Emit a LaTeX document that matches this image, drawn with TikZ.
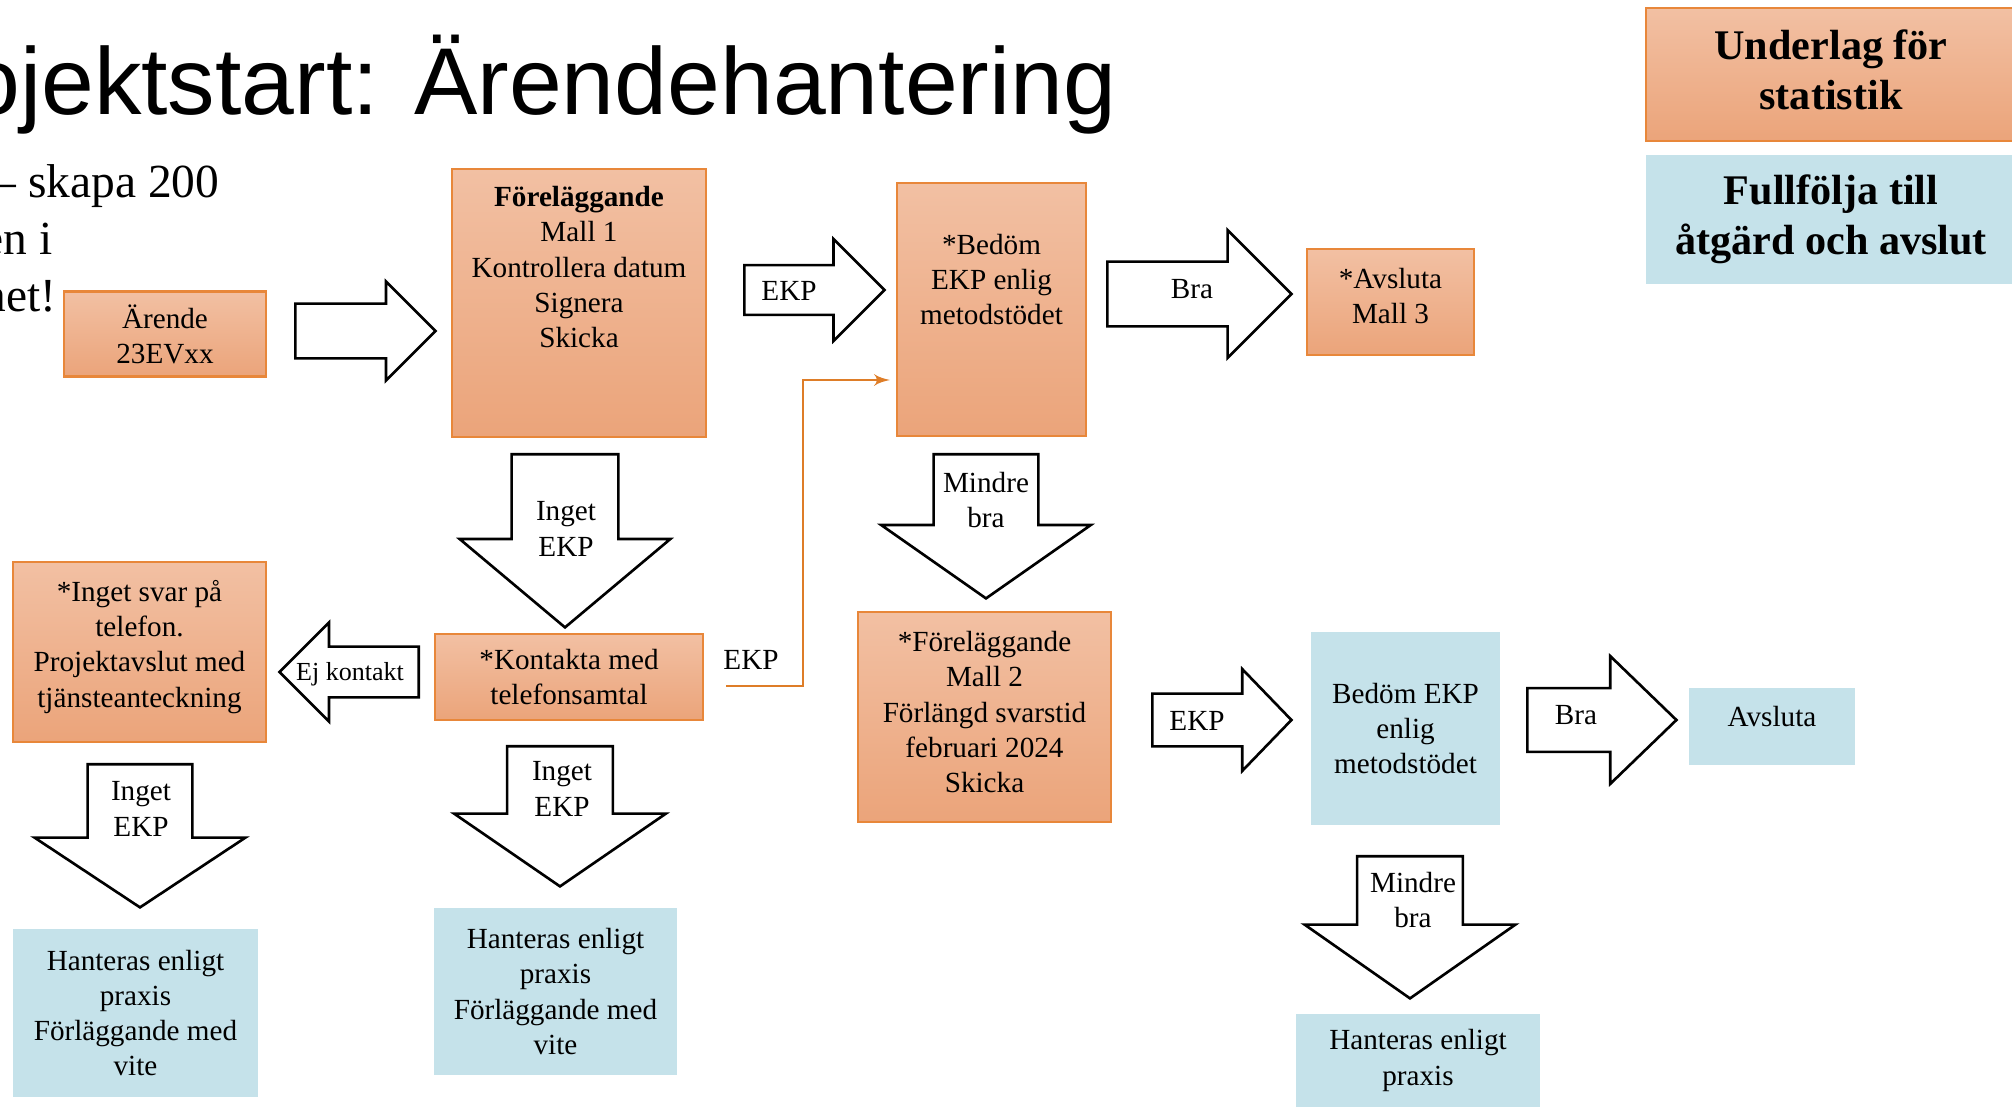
\documentclass[tikz,border=0pt]{standalone}
\usepackage{fontspec}
\setmainfont{Liberation Serif}
\newfontfamily\titlefont{Liberation Sans}
\usetikzlibrary{arrows,shapes.arrows}
\definecolor{otop}{RGB}{242,192,163}
\definecolor{obot}{RGB}{235,164,122}
\definecolor{oline}{RGB}{232,135,58}
\definecolor{lblue}{RGB}{197,226,234}
\definecolor{ekporange}{RGB}{222,125,40}

\begin{document}
\begin{tikzpicture}[x=0.01cm,y=-0.01cm]

\tikzset{obox/.style = {draw=oline, line width=0.6pt, top color=otop, bottom color=obot, align=center, inner sep=0pt, font=\fontsize{8.3}{10}\selectfont}}
\tikzset{bbox/.style = {fill=lblue, align=center, inner sep=0pt, font=\fontsize{8.3}{10}\selectfont}}
\tikzset{bigtext/.style = {font=\bfseries\fontsize{12}{14.2}\selectfont}}
\tikzset{blockarrow/.style = {single arrow, draw, fill=white, line width=0.75pt, inner xsep=0pt, minimum width=0pt, anchor=tail}}
\tikzset{arrowtext/.style = {align=center, inner sep=0pt, font=\fontsize{8.3}{10}\selectfont}}
\tikzset{bodytext/.style = {anchor=base east, inner sep=0pt, font=\fontsize{13.5}{16}\selectfont}}
\tikzset{ekpline/.style = {draw=ekporange, line width=0.6pt, -latex'}}

\useasboundingbox (0,0) rectangle (2012,1107);
\clip (0,0) rectangle (2012,1107);

%title and body text
\node[anchor=base east, inner sep=0pt, font=\titlefont\fontsize{27}{32}\selectfont] (titel) at (1117,115) {Projektstart: Ärendehantering};
\node[bodytext] (rad1) at (220,198) {– skapa 200};
\node[bodytext] (rad2) at (53,255) {en i};
\node[bodytext] (rad3) at (57,312) {net!};

%boxes
\node[obox, minimum width=2.02cm, minimum height=0.85cm] (arende) at (165,334) {Ärende\\23EVxx};
\node[obox, minimum width=2.54cm, minimum height=2.68cm, text depth=20.5pt] (forel) at (579,303) {\textbf{Föreläggande}\\Mall 1\\Kontrollera datum\\Signera\\Skicka};
\node[obox, minimum width=1.89cm, minimum height=2.53cm, text depth=17pt] (bedom) at (991.5,309.5) {*Bedöm\\EKP enlig\\metodstödet};
\node[obox, minimum width=1.67cm, minimum height=1.06cm, text depth=3.6pt] (avsl3) at (1390.5,302) {*Avsluta\\Mall 3};
\node[obox, bigtext, minimum width=3.70cm, minimum height=1.33cm, text depth=3pt] (underlag) at (1831,74.5) {Underlag för\\statistik};
\node[bbox, bigtext, minimum width=3.70cm, minimum height=1.29cm] (fullf) at (1831,219.5) {Fullfölja till\\åtgärd och avslut};
\node[obox, minimum width=2.53cm, minimum height=1.80cm, text depth=4.7pt] (ingsvar) at (139.5,652) {*Inget svar på\\telefon.\\Projektavslut med\\tjänsteanteckning};
\node[obox, minimum width=2.68cm, minimum height=0.86cm] (kontakt) at (569,677) {*Kontakta med\\telefonsamtal};
\node[obox, minimum width=2.53cm, minimum height=2.10cm, text depth=2.9pt] (forel2) at (984.5,717) {*Föreläggande\\Mall 2\\Förlängd svarstid\\februari 2024\\Skicka};
\node[bbox, minimum width=1.89cm, minimum height=1.93cm] (bedom2) at (1405.5,728.5) {Bedöm EKP\\enlig\\metodstödet};
\node[bbox, minimum width=1.66cm, minimum height=0.77cm, text depth=5.9pt] (avslb) at (1772,726.5) {Avsluta};
\node[bbox, minimum width=2.45cm, minimum height=1.68cm] (hant1) at (135.5,1013) {Hanteras enligt\\praxis\\Förläggande med\\vite};
\node[bbox, minimum width=2.43cm, minimum height=1.67cm] (hant2) at (555.5,991.5) {Hanteras enligt\\praxis\\Förläggande med\\vite};
\node[bbox, minimum width=2.44cm, minimum height=0.93cm] (hant3) at (1418,1060.5) {Hanteras enligt\\praxis};

%block arrows
\node[blockarrow, minimum height=1.40cm, inner ysep=0.26cm, single arrow head extend=0.22cm] (pil1) at (294,331) {};
\node[blockarrow, minimum height=1.40cm, inner ysep=0.235cm, single arrow head extend=0.26cm] (pil2) at (743,290) {};
\node[blockarrow, minimum height=1.84cm, inner ysep=0.31cm, single arrow head extend=0.315cm] (pil3) at (1106,294) {};
\node[blockarrow, rotate=-90, minimum height=1.73cm, inner ysep=0.52cm, single arrow head extend=0.52cm, single arrow tip angle=100] (pil4) at (565,453) {};
\node[blockarrow, rotate=-90, minimum height=1.44cm, inner ysep=0.51cm, single arrow head extend=0.525cm, single arrow tip angle=110] (pil5) at (986,453) {};
\node[blockarrow, rotate=180, minimum height=1.39cm, inner ysep=0.24cm, single arrow head extend=0.24cm] (pil6) at (420,672) {};
\node[blockarrow, rotate=-90, minimum height=1.43cm, inner ysep=0.51cm, single arrow head extend=0.53cm, single arrow tip angle=113] (pil7) at (140,763) {};
\node[blockarrow, rotate=-90, minimum height=1.40cm, inner ysep=0.515cm, single arrow head extend=0.53cm, single arrow tip angle=111] (pil8) at (560,745) {};
\node[blockarrow, minimum height=1.39cm, inner ysep=0.25cm, single arrow head extend=0.245cm, single arrow tip angle=92] (pil9) at (1151,720) {};
\node[blockarrow, minimum height=1.49cm, inner ysep=0.305cm, single arrow head extend=0.32cm, single arrow tip angle=88] (pil10) at (1526,720) {};
\node[blockarrow, rotate=-90, minimum height=1.42cm, inner ysep=0.515cm, single arrow head extend=0.525cm, single arrow tip angle=110] (pil11) at (1410,855) {};

%arrow labels
\node[arrowtext] (ekp1) at (789,291) {EKP};
\node[arrowtext] (bra1) at (1192,289) {Bra};
\node[arrowtext] (inget1) at (566,529) {Inget\\EKP};
\node[arrowtext] (mindre1) at (986,500) {Mindre\\bra};
\node[arrowtext, font=\fontsize{7.4}{9}\selectfont] (ejkontakt) at (350,674) {Ej kontakt};
\node[arrowtext] (inget2) at (141,809) {Inget\\EKP};
\node[arrowtext] (inget3) at (562,789) {Inget\\EKP};
\node[arrowtext] (ekp2) at (1197,721) {EKP};
\node[arrowtext] (bra2) at (1576,715) {Bra};
\node[arrowtext] (mindre2) at (1413,900) {Mindre\\bra};

%EKP connector
\coordinate (ekpstart) at (726,686);
\coordinate (ekpend) at (890,380);
\draw[ekpline] (ekpstart) -- (803,686) |- (ekpend);
\node[arrowtext] (ekp3) at (751,660) {EKP};
\end{tikzpicture}
\end{document}
